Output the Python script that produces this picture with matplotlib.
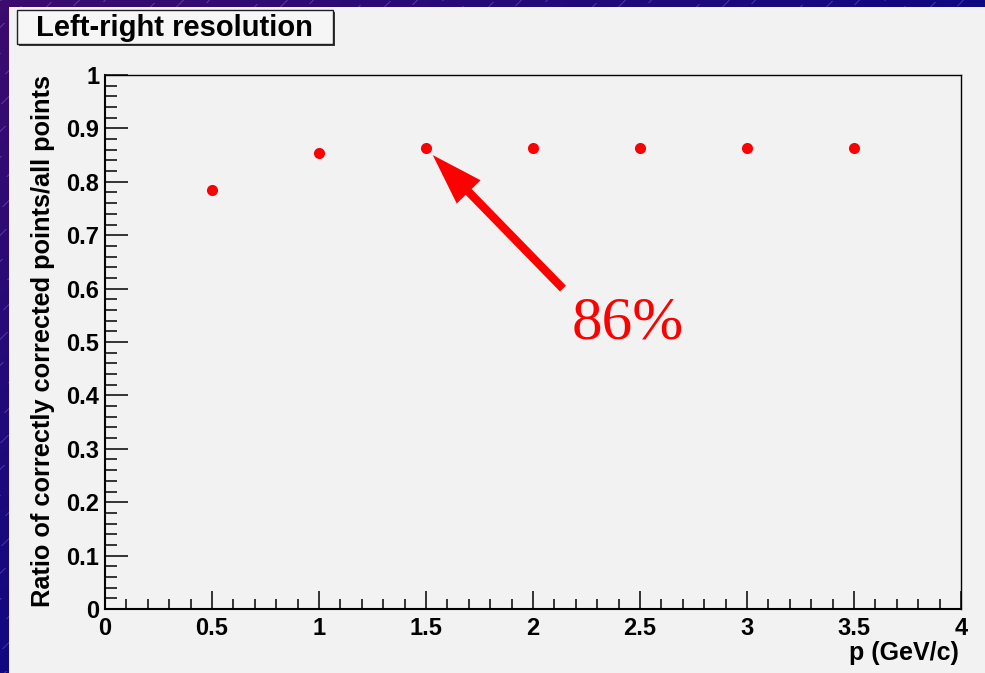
import matplotlib

matplotlib.use("Agg")
import matplotlib.pyplot as plt
import numpy as np
from matplotlib.patches import Rectangle

# Left-right resolution vs momentum
p_gev = [0.5, 1.0, 1.5, 2.0, 2.5, 3.0, 3.5]
ratio = [0.785, 0.854, 0.863, 0.863, 0.863, 0.863, 0.863]

x_ticks = [0, 0.5, 1, 1.5, 2, 2.5, 3, 3.5, 4]
x_ticklabels = ["0", "0.5", "1", "1.5", "2", "2.5", "3", "3.5", "4"]
y_ticks = [0, 0.1, 0.2, 0.3, 0.4, 0.5, 0.6, 0.7, 0.8, 0.9, 1.0]
y_ticklabels = ["0", "0.1", "0.2", "0.3", "0.4", "0.5", "0.6", "0.7", "0.8", "0.9", "1"]

highlight = 2  # point the arrow refers to
highlight_label = f"{ratio[highlight]:.0%}"

W, H = 985, 673
SANS = "Liberation Sans"
SERIF = "Liberation Serif"
RED = "#ff0000"
CANVAS = "#f2f2f2"

fig = plt.figure(figsize=(W / 100, H / 100), dpi=100)

# slide background: purple -> navy gradient with faint diagonal dashes
bg = fig.add_axes([0, 0, 1, 1])
yy, xx = np.mgrid[0:H, 0:W]
t = np.clip((xx / W * 0.9 + yy / H * 0.9), 0, 1)[..., None]
purple = np.array([0x3c, 0x0c, 0x6e]) / 255
navy = np.array([0x0c, 0x08, 0x84]) / 255
img = purple * (1 - t) + navy * t
stripe = (((xx + yy) % 26) < 1.3) & (((xx - yy) % 34) < 16)
img = img + stripe[..., None] * 0.12
bg.imshow(np.clip(img, 0, 1), aspect="auto", extent=[0, W, H, 0])
bg.set_xlim(0, W)
bg.set_ylim(H, 0)
bg.axis("off")

# gray drawing canvas
bg.add_patch(Rectangle((9, 7), W - 9, H - 7, facecolor=CANVAS, edgecolor="none", zorder=2))

# title box with a drop shadow
bg.add_patch(Rectangle((19, 12), 316, 34, facecolor="#3a3a3a", edgecolor="none", zorder=3))
bg.add_patch(Rectangle((17, 10), 316, 34, facecolor="#f6f6f6", edgecolor="#202020",
                       linewidth=1.0, zorder=4))
bg.text(174, 28, "Left-right resolution", family=SANS, fontweight="bold",
        fontsize=21, ha="center", va="center", zorder=5)

left, right, top, bottom = 105, 961, 75, 609
ax = fig.add_axes([left / W, (H - bottom) / H, (right - left) / W, (bottom - top) / H])
ax.set_facecolor(CANVAS)
ax.set_xlim(0, 4)
ax.set_ylim(0, 1)

ax.plot(p_gev, ratio, "o", color=RED, markersize=8, markeredgewidth=0, zorder=3)

ax.set_xticks(x_ticks)
ax.set_xticklabels(x_ticklabels)
ax.set_yticks(y_ticks)
ax.set_yticklabels(y_ticklabels)
ax.set_xticks(np.arange(0, 4.001, 0.1), minor=True)
ax.set_yticks(np.arange(0, 1.001, 0.02), minor=True)
ax.tick_params(axis="x", which="major", direction="in", length=13, width=1.1, pad=6,
               labelsize=17)
ax.tick_params(axis="x", which="minor", direction="in", length=7, width=1.1)
ax.tick_params(axis="y", which="major", direction="in", length=16.5, width=1.1, pad=4,
               labelsize=17)
ax.tick_params(axis="y", which="minor", direction="in", length=8.5, width=1.1)
for lab in ax.get_xticklabels() + ax.get_yticklabels():
    lab.set_family(SANS)
    lab.set_fontweight("bold")
for side in ["left", "bottom"]:
    ax.spines[side].set_linewidth(1.5)
for side in ["top", "right"]:
    ax.spines[side].set_linewidth(1.0)

ax.text(0.997, -0.083, "p (GeV/c)", transform=ax.transAxes, ha="right", va="center",
        family=SANS, fontweight="bold", fontsize=18)
ax.text(-0.0725, 1.0, "Ratio of correctly corrected points/all points", transform=ax.transAxes,
        rotation=90, ha="center", va="top", family=SANS, fontweight="bold", fontsize=18.3)

# arrow pointing at the plateau value
ax.annotate("", xy=(p_gev[highlight], ratio[highlight]), xytext=(2.14, 0.60),
            arrowprops=dict(arrowstyle="simple,head_length=37,head_width=24,tail_width=6",
                            mutation_scale=1, color=RED, linewidth=0,
                            shrinkA=0, shrinkB=7), zorder=4)
ax.text(2.445, 0.535, highlight_label, color=RED, family=SERIF, fontsize=44,
        ha="center", va="center")

fig.savefig("out.png", dpi=100)
